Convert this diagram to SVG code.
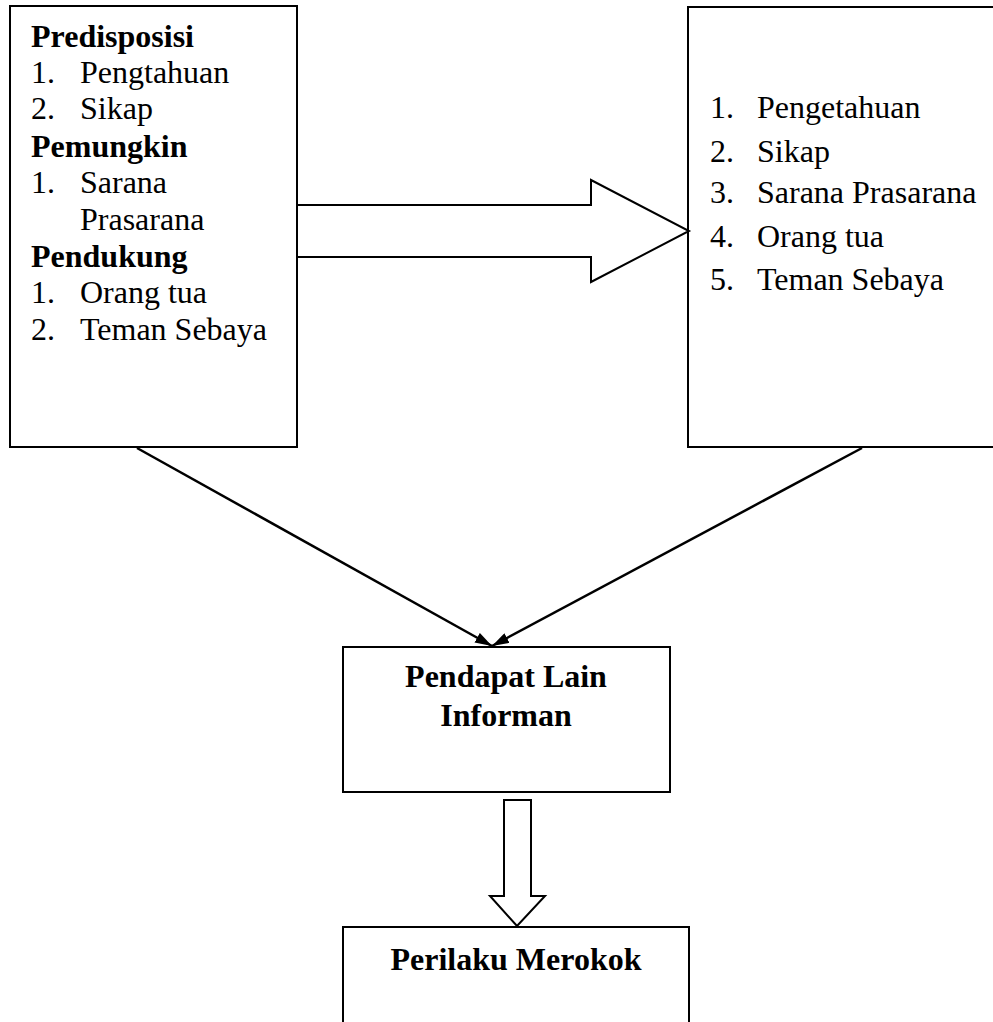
<svg xmlns="http://www.w3.org/2000/svg" width="993" height="1022" viewBox="0 0 993 1022">
<style>
.box{fill:#fff;stroke:#000;stroke-width:2}
.shape{fill:#fff;stroke:#000;stroke-width:2;stroke-linejoin:miter}
.t{font-family:"Liberation Serif","Times New Roman",serif;font-size:32px;fill:#000}
.b{font-weight:bold}
.c{text-anchor:middle}
.ln{stroke:#000;stroke-width:2.5;fill:none}
</style>
<defs>
<marker id="ah" markerUnits="userSpaceOnUse" markerWidth="17" markerHeight="11" refX="17" refY="5.5" orient="auto">
<path d="M0,0 L17,5.5 L0,11 z" fill="#000"/>
</marker>
</defs>
<rect width="993" height="1022" fill="#fff"/>
<g id="connectors">
<polygon class="shape" points="297,205 591,205 591,180 689,231 591,282 591,257 297,257"/>
<line class="ln" x1="137" y1="448" x2="492" y2="646" marker-end="url(#ah)"/>
<line class="ln" x1="862" y1="448" x2="492" y2="646" marker-end="url(#ah)"/>
<polygon class="shape" points="504,800 531,800 531,896 545,896 517,926 490,896 504,896"/>
</g>
<g id="node-left">
<rect class="box" x="10" y="6" width="287" height="441" fill="none" style="fill:none"/>
<text class="t b" x="31" y="47">Predisposisi</text>
<text class="t" x="31" y="83">1.</text><text class="t" x="80" y="83">Pengtahuan</text>
<text class="t" x="31" y="119">2.</text><text class="t" x="80" y="119">Sikap</text>
<text class="t b" x="31" y="157">Pemungkin</text>
<text class="t" x="31" y="193">1.</text><text class="t" x="80" y="193">Sarana</text>
<text class="t" x="80" y="230">Prasarana</text>
<text class="t b" x="31" y="267">Pendukung</text>
<text class="t" x="31" y="303">1.</text><text class="t" x="80" y="303">Orang tua</text>
<text class="t" x="31" y="340">2.</text><text class="t" x="80" y="340">Teman Sebaya</text>
</g>
<g id="node-right">
<rect class="box" x="688" y="7" width="320" height="440" style="fill:none"/>
<text class="t" x="710" y="118">1.</text><text class="t" x="757" y="118">Pengetahuan</text>
<text class="t" x="710" y="162">2.</text><text class="t" x="757" y="162">Sikap</text>
<text class="t" x="710" y="203">3.</text><text class="t" x="757" y="203">Sarana Prasarana</text>
<text class="t" x="710" y="247">4.</text><text class="t" x="757" y="247">Orang tua</text>
<text class="t" x="710" y="290">5.</text><text class="t" x="757" y="290">Teman Sebaya</text>
</g>
<g id="node-pendapat">
<rect class="box" x="343" y="647" width="327" height="145" style="fill:none"/>
<text class="t b c" x="506" y="687">Pendapat Lain</text>
<text class="t b c" x="506" y="726">Informan</text>
</g>
<g id="node-perilaku">
<rect class="box" x="343" y="927" width="346" height="120" style="fill:none"/>
<text class="t b c" x="516" y="970">Perilaku Merokok</text>
</g>
</svg>
